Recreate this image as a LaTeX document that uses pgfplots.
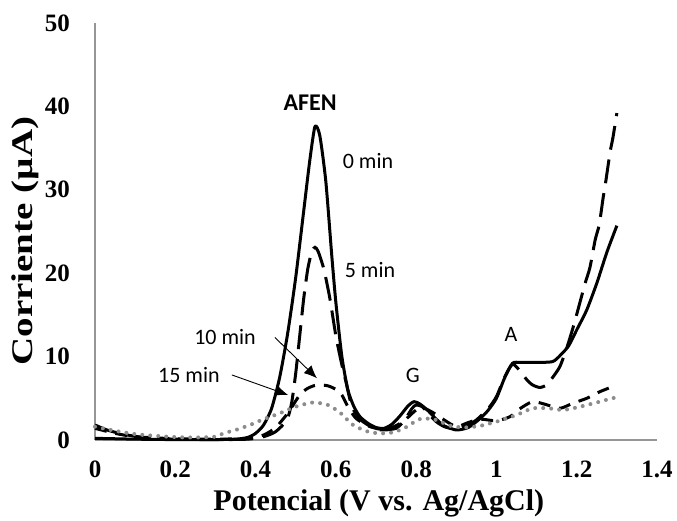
\documentclass[border=0pt]{standalone}
\usepackage{pgfplots}
\pgfplotsset{compat=1.18}
\usepackage{fontspec}
\setmainfont{Liberation Serif}
\newfontfamily\calibri{Carlito}
\usetikzlibrary{arrows.meta}
\definecolor{axgray}{RGB}{150,150,150}
\definecolor{dotgray}{RGB}{140,140,140}
\begin{document}
\begin{tikzpicture}
\path[use as bounding box] (0,0) rectangle (677pt,520pt);
\begin{axis}[
  scale only axis, width=562pt, height=417pt,
  at={(95pt,80pt)}, anchor=south west,
  xmin=0, xmax=1.4, ymin=0, ymax=50,
  axis lines=left,
  axis line style={-, draw=axgray, line width=1.2pt},
  major tick length=0pt,
  xtick={0,0.2,0.4,0.6,0.8,1,1.2,1.4},
  ytick={0,10,20,30,40,50},
  /pgf/number format/assume math mode=true,
  tick label style={font=\fontsize{25}{30}\selectfont\bfseries},
  xticklabel style={inner sep=0pt, anchor=north, yshift=-21pt},
  yticklabel style={inner sep=0pt, anchor=east, xshift=-25pt},
  xlabel={Potencial (V vs. Ag/AgCl)},
  ylabel={\scalebox{1.3}[1]{Corriente (µA)}},
  label style={font=\fontsize{30}{36}\selectfont\bfseries},
  xlabel style={at={(axis description cs:0.505,-0.17)}, anchor=base, inner sep=0pt},
  ylabel style={at={(axis description cs:-0.1246,0.477)}, anchor=center, inner sep=0pt},
  clip=false,
]
% 0 min
\addplot[black, line width=3pt, line join=round, smooth, tension=0.4] coordinates {
(0,0.2) (0.05,0.15) (0.1,0.1) (0.2,0.05) (0.3,0.05) (0.35,0.1) (0.38,0.3) (0.40,0.8)
(0.42,1.8) (0.44,3.8) (0.46,7.5) (0.48,12.8) (0.50,19.5) (0.52,27.5) (0.535,33.5)
(0.548,37.6) (0.56,36.5) (0.575,31) (0.59,22) (0.60,16.5) (0.615,10) (0.63,6)
(0.645,4) (0.66,2.8) (0.68,2.0) (0.70,1.5) (0.72,1.4) (0.74,1.9) (0.76,2.9) (0.78,4.1)
(0.795,4.6) (0.81,4.3) (0.83,3.5) (0.85,2.5) (0.87,1.7) (0.90,1.2) (0.93,1.5) (0.96,2.6)
(0.98,3.6) (1.00,5.0) (1.02,7.4) (1.04,9.2) (1.06,9.3) (1.10,9.3) (1.14,9.4) (1.16,10.2)
(1.18,11.3) (1.20,13.2) (1.225,15.6) (1.25,18.8) (1.275,22.5) (1.30,25.7)
};
% 5 min
\addplot[black, line width=3pt, dash pattern=on 24pt off 10pt, smooth, tension=0.4] coordinates {
(0,1.8) (0.03,1.2) (0.07,0.7) (0.12,0.3) (0.2,0.1) (0.3,0.05) (0.38,0.1) (0.42,0.4)
(0.45,1.0) (0.478,2.4) (0.49,4.5) (0.50,8.0) (0.51,12.5) (0.52,17) (0.53,20.5)
(0.54,22.6) (0.548,23.1) (0.556,22.6) (0.57,20.5) (0.585,17) (0.60,12.5) (0.615,9)
(0.625,7) (0.64,4) (0.66,2.5) (0.68,1.8) (0.70,1.3) (0.72,1.2) (0.75,1.4) (0.77,2.3)
(0.79,3.8) (0.80,4.2) (0.815,4.0) (0.83,3.2) (0.85,2.2) (0.87,1.6) (0.89,1.4) (0.92,1.6)
(0.95,2.4) (0.98,3.8) (1.00,5.2) (1.02,7.5) (1.04,9.1) (1.06,8.2) (1.076,7.2) (1.09,6.6)
(1.108,6.3) (1.125,6.6) (1.14,7.5) (1.158,8.8) (1.175,11) (1.191,13.5) (1.203,15.6)
(1.221,18.8) (1.233,20.7) (1.246,24) (1.256,25.8) (1.266,29.1) (1.273,31.2)
(1.283,34.5) (1.29,36.2) (1.30,39.2)
};
% 10 min
\addplot[black, line width=3pt, dash pattern=on 12pt off 9pt, smooth, tension=0.4] coordinates {
(0,1.4) (0.05,0.8) (0.1,0.4) (0.2,0.15) (0.3,0.1) (0.38,0.2) (0.42,0.6) (0.45,1.5)
(0.48,3.2) (0.51,5.4) (0.53,6.2) (0.553,6.6) (0.58,6.5) (0.603,6.0) (0.615,5.4)
(0.63,4.0) (0.65,2.6) (0.68,1.7) (0.71,1.3) (0.74,1.5) (0.77,2.3) (0.80,3.6) (0.82,3.8)
(0.845,3.2) (0.87,2.4) (0.90,1.6) (0.93,2.1) (0.96,2.5) (1.00,2.3) (1.034,2.8)
(1.06,3.8) (1.09,4.6) (1.12,4.3) (1.158,3.8) (1.19,4.4) (1.225,5.0) (1.258,5.8) (1.30,6.6)
};
% 15 min
\addplot[dotgray, line width=4pt, line cap=round, dash pattern=on 0pt off 8pt, smooth, tension=0.4] coordinates {
(0,1.6) (0.05,1.1) (0.1,0.7) (0.15,0.5) (0.2,0.35) (0.25,0.3) (0.3,0.4) (0.32,0.8)
(0.35,1.2) (0.386,1.8) (0.42,2.5) (0.46,3.2) (0.50,4.0) (0.543,4.5) (0.58,4.2)
(0.61,3.3) (0.643,1.8) (0.68,1.0) (0.71,0.8) (0.74,0.9) (0.77,1.4) (0.80,2.3)
(0.817,2.6) (0.85,2.4) (0.885,1.7) (0.92,1.5) (0.96,1.7) (1.0,2.2) (1.05,3.0)
(1.09,3.8) (1.13,3.8) (1.166,3.6) (1.2,3.9) (1.25,4.5) (1.288,5.0) (1.30,5.1)
};
% annotations
\node[font=\calibri\bfseries\fontsize{24}{28}\selectfont, inner sep=0pt] at (axis cs:0.536,40.5) {AFEN};
\node[font=\calibri\fontsize{22}{26}\selectfont, inner sep=0pt] at (axis cs:0.680,33.5) {0 min};
\node[font=\calibri\fontsize{22}{26}\selectfont, inner sep=0pt] at (axis cs:0.685,20.4) {5 min};
\node[font=\calibri\fontsize{22}{26}\selectfont, inner sep=0pt] at (axis cs:0.324,12.3) {10 min};
\node[font=\calibri\fontsize{22}{26}\selectfont, inner sep=0pt] at (axis cs:0.234,7.8) {15 min};
\node[font=\calibri\fontsize{22}{26}\selectfont, inner sep=0pt] at (axis cs:0.792,7.8) {G};
\node[font=\calibri\fontsize{22}{26}\selectfont, inner sep=0pt] at (axis cs:1.036,12.6) {A};
\draw[black, line width=0.9pt, -{Latex[length=13pt,width=11pt]}] (axis cs:0.448,12.3) -- (axis cs:0.553,7.4);
\draw[black, line width=0.9pt, -{Latex[length=13pt,width=11pt]}] (axis cs:0.341,7.8) -- (axis cs:0.481,5.4);
\end{axis}
\end{tikzpicture}
\end{document}
